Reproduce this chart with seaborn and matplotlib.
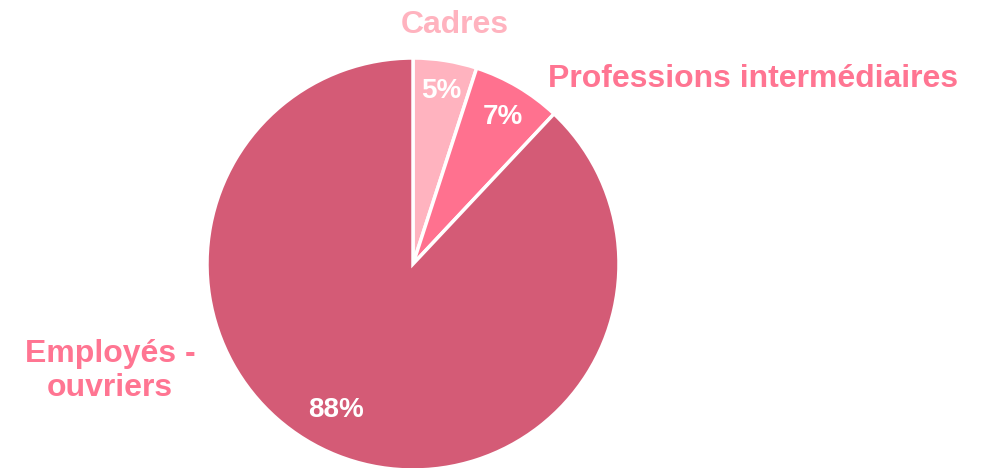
import matplotlib
matplotlib.use("Agg")
import matplotlib.pyplot as plt
import seaborn as sns
import numpy as np

sns.set_theme(style="white")
plt.rcParams['font.family'] = ['Liberation Sans', 'DejaVu Sans']

categories = ["Cadres", "Professions intermédiaires", "Employés -\nouvriers"]
values = [5, 7, 88]
wedge_colors = ["#FFB3BF", "#FF718F", "#D45B76"]
label_colors = ["#FFB3BF", "#FF7592", "#FF7592"]

W, H, DPI = 983, 468, 100
fig = plt.figure(figsize=(W / DPI, H / DPI), dpi=DPI)
cx, cy, r = 413, 468 - 264, 206
ax = fig.add_axes([(cx - r) / W, (cy - r) / H, 2 * r / W, 2 * r / H])

wedges, texts, autotexts = ax.pie(
    values, startangle=90, counterclock=False, colors=wedge_colors,
    autopct=lambda p: f"{p:.0f}%", pctdistance=0.85,
    wedgeprops=dict(edgecolor="white", linewidth=2.5),
    textprops=dict(color="white", fontsize=20, fontweight="bold"),
)
for w in wedges:
    w.set_clip_on(False)
ang = np.deg2rad(-117.7)
autotexts[2].set_position((0.80 * np.cos(ang), 0.80 * np.sin(ang)))
autotexts[0].set_position((0.135, 0.84))
autotexts[1].set_position((0.435, 0.715))

ax.set_xlim(-1, 1)
ax.set_ylim(-1, 1)
ax.set_aspect("equal")
ax.axis("off")

label_pos = [(0.204, 1.16, "center"), (0.655, 0.90, "left"), (-1.47, -0.52, "center")]
for name, col, (x, y, ha) in zip(categories, label_colors, label_pos):
    ax.text(x, y, name, ha=ha, va="center", color=col, fontsize=23,
            fontweight="bold", linespacing=1.2, clip_on=False)

fig.savefig("out.png", dpi=DPI, facecolor="white")
